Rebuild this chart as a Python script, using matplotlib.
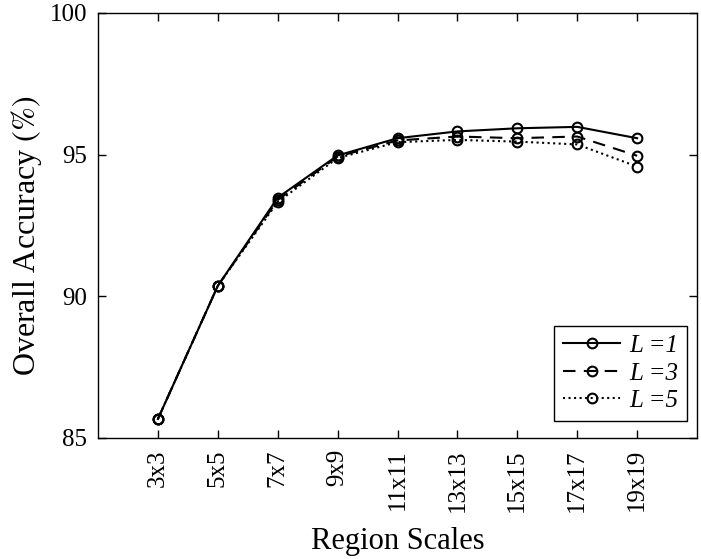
import matplotlib
matplotlib.use("Agg")
import matplotlib.pyplot as plt

scales = ["3x3", "5x5", "7x7", "9x9", "11x11", "13x13", "15x15", "17x17", "19x19"]
acc_l1 = [85.67, 90.37, 93.48, 94.97, 95.58, 95.82, 95.93, 95.98, 95.58]
acc_l3 = [85.67, 90.37, 93.40, 94.93, 95.50, 95.64, 95.58, 95.64, 94.96]
acc_l5 = [85.67, 90.37, 93.33, 94.88, 95.44, 95.52, 95.46, 95.36, 94.58]

plt.rcParams['font.family'] = ['Liberation Serif', 'DejaVu Serif']
plt.rcParams['mathtext.fontset'] = 'stix'

fig = plt.figure(figsize=(7.01, 5.59), dpi=100)
ax = fig.add_axes([0.1398, 0.2165, 0.8545, 0.7603])

x = list(range(1, len(scales) + 1))
kw = dict(color='black', marker='o', markersize=7, markerfacecolor='none',
          markeredgewidth=1.5, linewidth=1.5)
ax.plot(x, acc_l1, linestyle='-', label='L =1', **kw)
ax.plot(x, acc_l3, linestyle='--', dashes=(6, 4), label='L =3', **kw)
ax.plot(x, acc_l5, linestyle=':', label='L =5', **kw)

ax.set_xlim(0, 10)
ax.set_ylim(85, 100)
ax.set_xticks(x)
ax.set_xticklabels(scales, rotation=90, fontsize=18)
ax.set_yticks([85, 90, 95, 100])
ax.tick_params(axis='y', labelsize=18)
ax.tick_params(direction='in', top=True, right=True, length=6, width=1, pad=8)
for s in ax.spines.values():
    s.set_linewidth(1)

ax.set_xlabel("Region Scales", fontsize=22, labelpad=11)
ax.set_ylabel("Overall Accuracy $\\mathit{(\\%)}$", fontsize=23)
ax.yaxis.set_label_coords(-0.09, 0.476)

leg = ax.legend(loc='lower right', bbox_to_anchor=(0.983, 0.040), borderaxespad=0,
                fontsize=18, fancybox=False, framealpha=1, edgecolor='black',
                handlelength=2.3, labelspacing=0.2, handletextpad=0.35,
                borderpad=0.35)
leg.get_frame().set_linewidth(1)
for t in leg.get_texts():
    t.set_fontstyle('italic')

fig.savefig("out.png", dpi=100)
